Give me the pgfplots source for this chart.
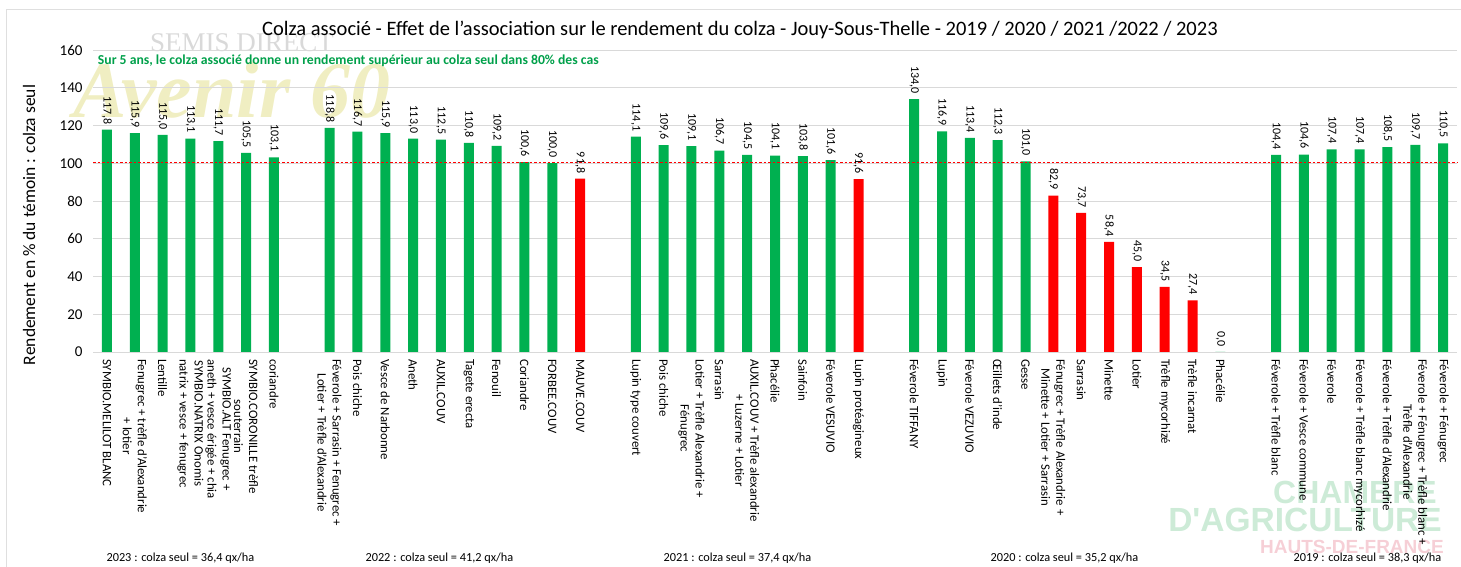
\documentclass[border=0pt]{standalone}
\usepackage{fontspec}
\setmainfont{Carlito}
\newfontfamily\wmserif{Liberation Serif}
\newfontfamily\wmsans{Liberation Sans}
\usepackage{pgfplots}
\pgfplotsset{compat=1.18}
\definecolor{xlgreen}{HTML}{00B050}
\definecolor{xlred}{HTML}{FF0000}
\definecolor{gridgray}{HTML}{D9D9D9}
\definecolor{txtgreen}{HTML}{00A04A}
\definecolor{wmyellow}{HTML}{F0EEC2}
\definecolor{wmgreen}{HTML}{CDEBD7}
\definecolor{wmpink}{HTML}{F6CFD6}

\begin{document}
\begin{tikzpicture}
% chart frame
\draw[gray!25] (6pt,0pt) -- (6pt,558pt) -- (1461pt,558pt);
% watermarks
\node[text=wmyellow, font=\wmserif\bfseries\itshape\fontsize{80}{80}\selectfont] at (232pt,477pt) {Avenir 60};
\node[text=gray!30, font=\wmserif\fontsize{27}{27}\selectfont] at (242pt,524pt) {SEMIS DIRECT};
\node[text=wmgreen, font=\wmsans\bfseries\fontsize{32}{32}\selectfont] at (1355pt,75pt) {CHAMBRE};
\node[text=wmgreen, font=\wmsans\bfseries\fontsize{33.5}{34}\selectfont] at (1305pt,47pt) {D'AGRICULTURE};
\node[text=wmpink, font=\wmsans\bfseries\fontsize{19}{19}\selectfont] at (1352pt,20pt) {HAUTS-DE-FRANCE};
% title
\node[font=\fontsize{20.5}{24}\selectfont] at (740pt,537pt) {Colza associé - Effet de l'association sur le rendement du colza - Jouy-Sous-Thelle - 2019 / 2020 / 2021 /2022 / 2023};
% y label
\node[rotate=90, font=\fontsize{17.5}{20}\selectfont] at (29pt,342pt) {Rendement en \% du témoin : colza seul};
% bottom notes
\begin{scope}[every node/.style={anchor=base west, font=\fontsize{12.3}{14}\selectfont}]
\node at (103pt,5pt) {2023 : colza seul = 36,4 qx/ha};
\node at (362pt,5pt) {2022 : colza seul = 41,2 qx/ha};
\node at (660pt,5pt) {2021 : colza seul = 37,4 qx/ha};
\node at (987pt,5pt) {2020 : colza seul = 35,2 qx/ha};
\node at (1290pt,5pt) {2019 : colza seul = 38,3 qx/ha};
\end{scope}
\begin{axis}[
  at={(93pt,215pt)}, anchor=south west,
  scale only axis, width=1364pt, height=302pt,
  xmin=-0.5, xmax=48.5, ymin=0, ymax=160,
  ytick={0,20,...,160},
  ymajorgrids, grid style={gridgray, line width=0.8pt},
  axis x line=bottom, axis y line=left,
  x axis line style={gridgray, line width=0.8pt, -},
  y axis line style={draw=none},
  major tick length=0pt,
  /pgf/number format/assume math mode=true,
  yticklabel style={font=\fontsize{15}{17}\selectfont, xshift=-7pt},
  xtick={0,1,2,3,4,5,6,8,9,10,11,12,13,14,15,16,17,19,20,21,22,23,24,25,26,27,29,30,31,32,33,34,35,36,37,38,39,40,42,43,44,45,46,47,48},
  xticklabels={
    {SYMBIO.MELILOT BLANC},
    {Fenugrec + trèfle d'Alexandrie\\+ lotier},
    {Lentille},
    {SYMBIO.NATRIX Onomis\\natrix + vesce + fenugrec},
    {SYMBIO.ALT Fenugrec +\\aneth + vesce érigée + chia},
    {SYMBIO.CORONILLE trèfle\\souterrain},
    {coriandre},
    {Féverole + Sarrasin + Fenugrec +\\Lotier + Trèfle d'Alexandrie},
    {Pois chiche},
    {Vesce de Narbonne},
    {Aneth},
    {AUXIL.COUV},
    {Tagete erecta},
    {Fenouil},
    {Coriandre},
    {FORBEE.COUV},
    {MAUVE.COUV},
    {Lupin type couvert},
    {Pois chiche},
    {Lotier + Trèfle Alexandrie +\\Fénugrec},
    {Sarrasin},
    {AUXIL.COUV + Trèfle alexandrie\\+ Luzerne + Lotier},
    {Phacélie},
    {Sainfoin},
    {Féverole VESUVIO},
    {Lupin protéagineux},
    {Féverole TIFFANY},
    {Lupin},
    {Féverole VEZUVIO},
    {Œillets d'inde},
    {Gesse},
    {Fénugrec + Trèfle Alexandrie +\\Minette + Lotier + Sarrasin},
    {Sarrasin},
    {Minette},
    {Lotier},
    {Trèfle mycorhizé},
    {Trèfle incarnat},
    {Phacélie},
    {Féverole  + Trèfle blanc},
    {Féverole + Vesce commune},
    {Féverole},
    {Féverole + Trèfle blanc mycorhizé},
    {Féverole + Trèfle d'Alexandrie},
    {Féverole + Fénugrec + Trèfle blanc +\\Trèfle d'Alexandrie},
    {Féverole + Fénugrec}
  },
  xticklabel style={rotate=-90, anchor=west, align=center, font=\fontsize{12.8}{15}\selectfont, inner xsep=7pt, inner ysep=1pt},
  ybar, bar width=10pt,
  nodes near coords,
  every node near coord/.append style={font=\fontsize{12}{14}\selectfont, yshift=2pt, rotate=-90, anchor=east, text=black},
  nodes near coords={\pgfmathprintnumber[fixed, fixed zerofill, precision=1, use comma, assume math mode=true]{\pgfplotspointmeta}},
  clip=false,
]
\addplot[fill=xlgreen, draw=none, bar shift=0pt] coordinates {
 (0,117.8) (1,115.9) (2,115.0) (3,113.1) (4,111.7) (5,105.5) (6,103.1)
 (8,118.8) (9,116.7) (10,115.9) (11,113.0) (12,112.5) (13,110.8) (14,109.2) (15,100.6) (16,100.0)
 (19,114.1) (20,109.6) (21,109.1) (22,106.7) (23,104.5) (24,104.1) (25,103.8) (26,101.6)
 (29,134.0) (30,116.9) (31,113.4) (32,112.3) (33,101.0) (40,0.0)
 (42,104.4) (43,104.6) (44,107.4) (45,107.4) (46,108.5) (47,109.7) (48,110.5)
};
\addplot[fill=xlred, draw=none, bar shift=0pt] coordinates {
 (17,91.8) (27,91.6) (34,82.9) (35,73.7) (36,58.4) (37,45.0) (38,34.5) (39,27.4)
};
\addplot[xlred, line width=0.8pt, dash pattern=on 2.5pt off 2pt, sharp plot, nodes near coords=\relax, forget plot] coordinates {(-0.5,100.3) (48.5,100.3)};
\node[anchor=west, font=\bfseries\fontsize{13.7}{16}\selectfont, text=txtgreen] at (axis cs:-0.45,154.3) {Sur 5 ans, le colza associé donne un rendement supérieur au colza seul dans 80\% des cas};
\end{axis}
\pgfresetboundingbox
\path[use as bounding box] (0pt,0pt) rectangle (1461pt,567pt);
\end{tikzpicture}
\end{document}
